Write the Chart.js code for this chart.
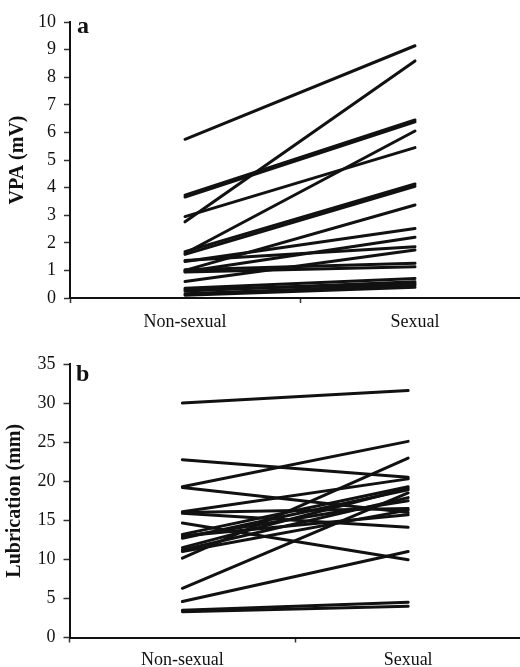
<!DOCTYPE html>
<html>
<head>
<meta charset="utf-8">
<script src="https://cdn.jsdelivr.net/npm/chart.js@4.4.1/dist/chart.umd.min.js"></script>
<style>
  html, body { margin: 0; padding: 0; background: #fff; overflow: hidden; }
  #wrap { position: relative; width: 520px; height: 667px; }
  #ca { position: absolute; left: 0; top: 0; }
  #cb { position: absolute; left: 0; top: 333px; }
</style>
</head>
<body>
<div id="wrap">
  <canvas id="ca" width="520" height="333"></canvas>
  <canvas id="cb" width="520" height="334"></canvas>
</div>
<script>
// ---- Data ----
const categories = ['Non-sexual', 'Sexual'];

// Panel a: VPA (mV), one value per participant
const vpaNonSexual = [5.75, 2.76, 3.73, 3.66, 1.62, 2.95, 1.68, 1.58, 1.00, 1.32, 0.95, 1.36, 0.60, 1.02, 0.94, 0.35, 0.25, 0.15, 0.10, 0.30];
const vpaSexual    = [9.14, 8.59, 6.45, 6.38, 6.05, 5.45, 4.13, 4.05, 3.37, 2.52, 2.20, 1.86, 1.74, 1.26, 1.13, 0.71, 0.59, 0.47, 0.39, 0.52];
const vpaTicks = [0, 1, 2, 3, 4, 5, 6, 7, 8, 9, 10];

// Panel b: Lubrication (mm)
const lubNonSexual = [30.0, 22.75, 19.3, 19.2, 16.1, 16.0, 15.9, 14.65, 13.2, 12.9, 12.7, 11.5, 11.2, 11.0, 10.15, 6.3, 4.6, 3.5, 3.3, 13.0];
const lubSexual    = [31.6, 20.5, 25.1, 16.0, 20.3, 16.5, 14.1, 9.95, 19.3, 17.5, 18.9, 19.1, 17.9, 16.3, 22.95, 18.5, 11.0, 4.5, 4.0, 15.7];
const lubTicks = [0, 5, 10, 15, 20, 25, 30, 35];

// ---- helpers ----
const SERIF = "'Liberation Serif', 'DejaVu Serif', serif";

function makeDatasets(pre, post) {
  return pre.map((v, i) => ({
    data: [{x: 0, y: v}, {x: 1, y: post[i]}],
    borderColor: '#111',
    borderWidth: 3,
    pointRadius: 0,
    pointHoverRadius: 0,
    fill: false,
    tension: 0,
    borderCapStyle: 'round'
  }));
}

function panelLabel(text, x, y) {
  return {
    id: 'panelLabel',
    afterDraw(chart) {
      const ctx = chart.ctx;
      ctx.save();
      ctx.font = "bold 24px " + SERIF;
      ctx.fillStyle = '#111';
      ctx.textBaseline = 'alphabetic';
      ctx.textAlign = 'left';
      ctx.fillText(text, x, y);
      ctx.restore();
    }
  };
}

function makeChart(canvasId, cfg) {
  const xTickVals = [-0.5, 0, 0.5, 1];
  return new Chart(document.getElementById(canvasId), {
    type: 'line',
    data: { datasets: makeDatasets(cfg.pre, cfg.post) },
    options: {
      responsive: false,
      animation: false,
      events: [],
      layout: { padding: { top: cfg.padTop, left: 0, right: 0, bottom: 0 } },
      plugins: { legend: { display: false }, tooltip: { enabled: false }, title: { display: false } },
      scales: {
        x: {
          type: 'linear',
          min: cfg.xMin,
          max: cfg.xMax,
          afterBuildTicks: s => { s.ticks = xTickVals.map(v => ({ value: v })); },
          afterFit: s => { s.height = cfg.xHeight; },
          border: { display: true, color: '#111', width: 2 },
          grid: {
            drawOnChartArea: false,
            drawTicks: true,
            tickLength: 5,
            tickWidth: 1.5,
            tickColor: c => (c.tick && (c.tick.value === -0.5 || c.tick.value === 0.5)) ? '#333' : 'rgba(0,0,0,0)'
          },
          ticks: {
            autoSkip: false,
            maxRotation: 0,
            padding: cfg.xPad,
            color: '#111',
            font: { family: SERIF, size: 18 },
            callback: v => v === 0 ? categories[0] : (v === 1 ? categories[1] : '')
          }
        },
        y: {
          type: 'linear',
          min: cfg.yTicks[0],
          max: cfg.yTicks[cfg.yTicks.length - 1],
          afterBuildTicks: s => { s.ticks = cfg.yTicks.map(v => ({ value: v })); },
          afterFit: s => { s.width = cfg.yWidth; },
          border: { display: true, color: '#111', width: 2 },
          grid: {
            drawOnChartArea: false,
            drawTicks: true,
            tickLength: 6,
            tickWidth: 1.5,
            tickColor: '#333'
          },
          ticks: {
            padding: 8,
            color: '#111',
            font: { family: SERIF, size: 18 }
          },
          title: {
            display: true,
            text: cfg.yTitle,
            color: '#111',
            padding: { top: cfg.titlePad, bottom: 0 },
            font: { family: SERIF, size: 20, weight: 'bold' }
          }
        }
      }
    },
    plugins: [panelLabel(cfg.label, cfg.labelX, cfg.labelY)]
  });
}

makeChart('ca', {
  pre: vpaNonSexual, post: vpaSexual, yTicks: vpaTicks,
  yTitle: 'VPA (mV)', label: 'a', labelX: 77, labelY: 33,
  padTop: 22, xHeight: 35, xPad: 8, yWidth: 70, titlePad: 6,
  xMin: -0.5, xMax: (520 - 185) / 230
});

makeChart('cb', {
  pre: lubNonSexual, post: lubSexual, yTicks: lubTicks,
  yTitle: 'Lubrication (mm)', label: 'b', labelX: 76, labelY: 48,
  padTop: 31, xHeight: 29.5, xPad: 7, yWidth: 69.5, titlePad: 3,
  xMin: -0.5, xMax: (520 - 182) / 226
});
</script>
</body>
</html>
